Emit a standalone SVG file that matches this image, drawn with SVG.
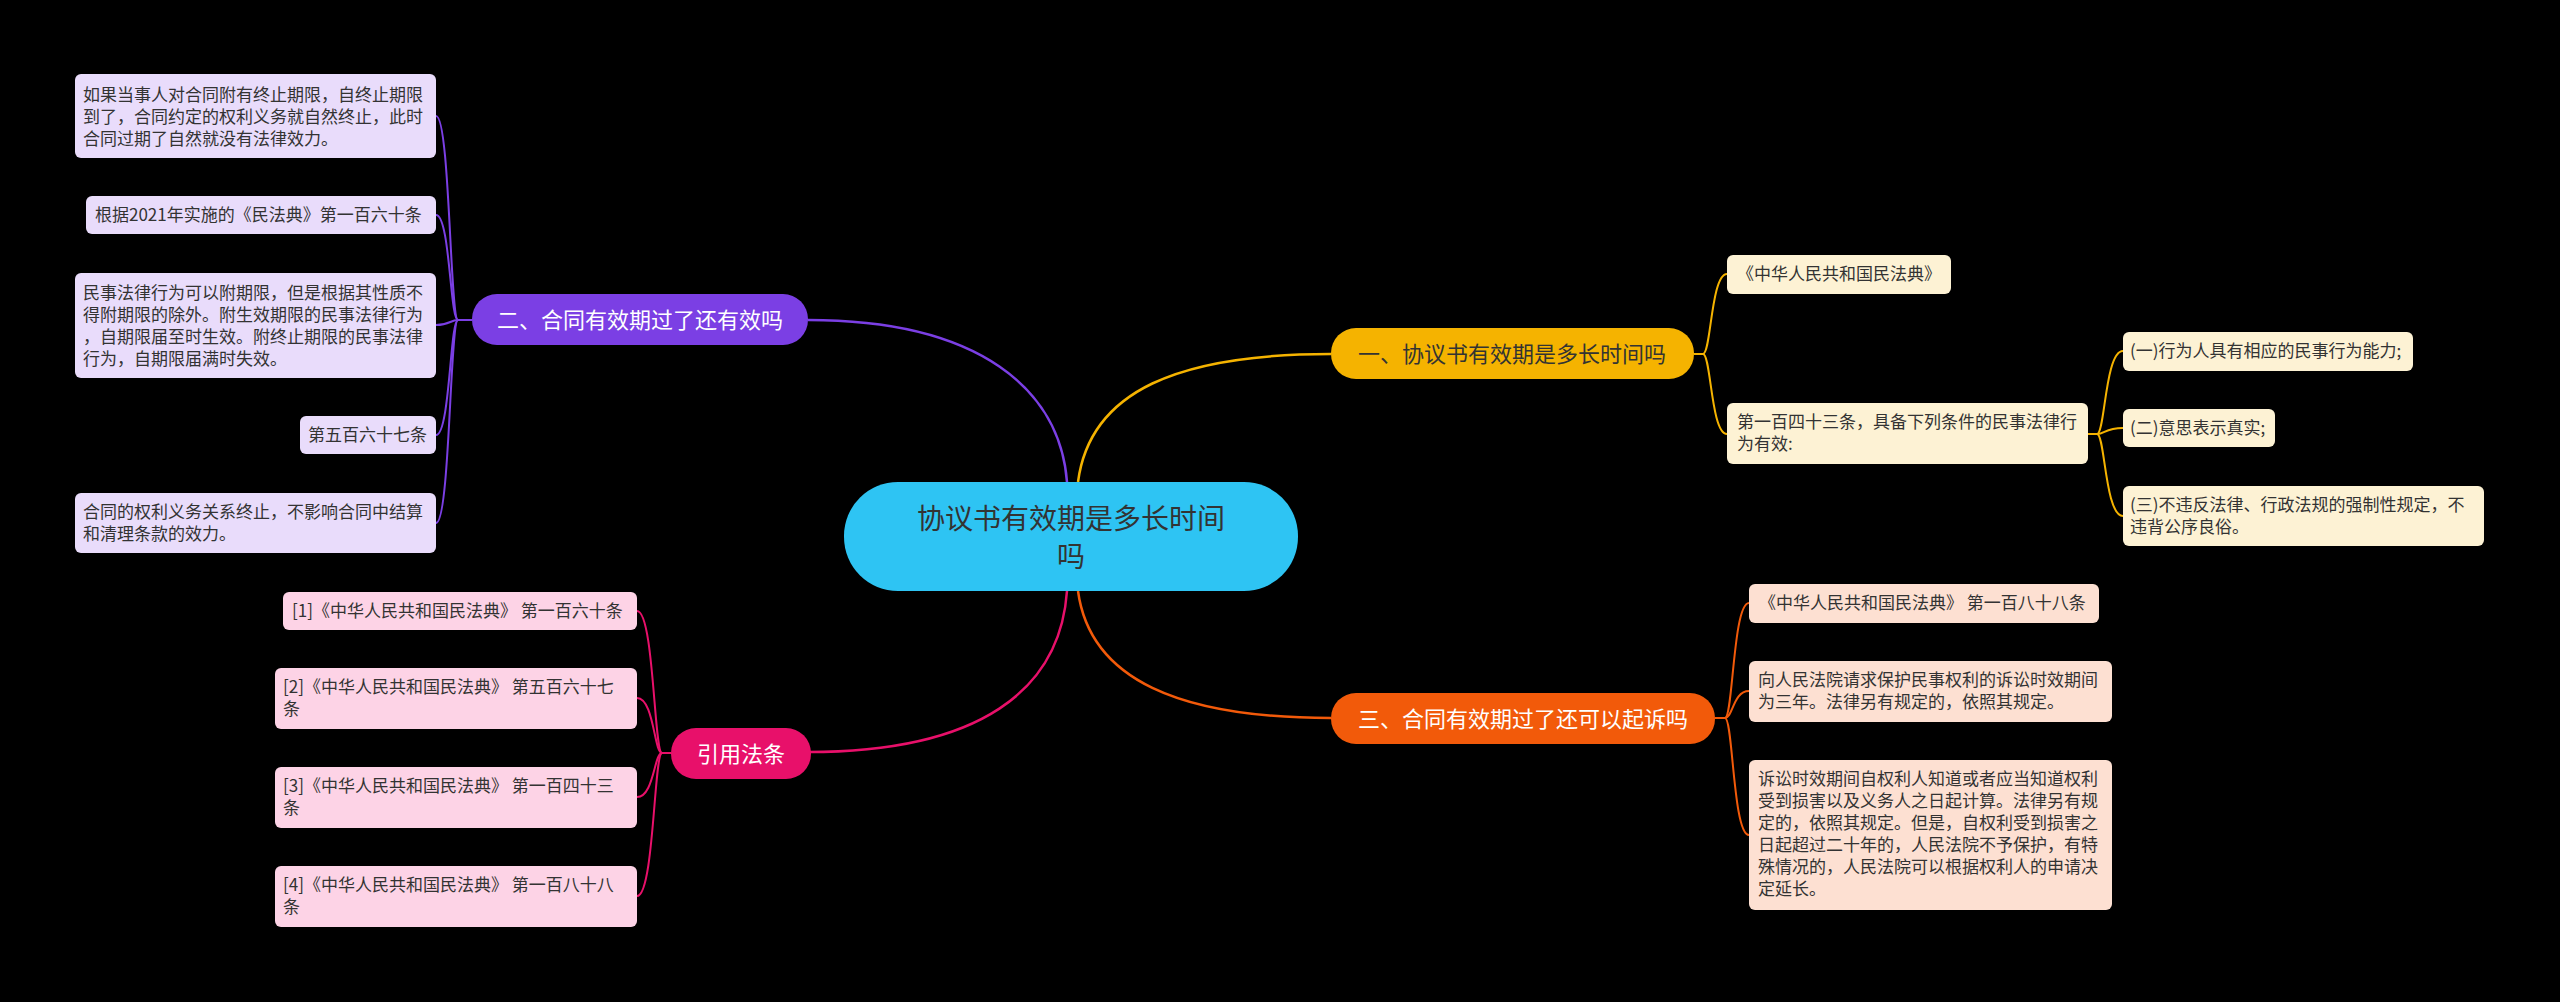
<svg xmlns="http://www.w3.org/2000/svg" width="2560" height="1002" viewBox="0 0 2560 1002">
<style>
text{font-family:"Noto Sans CJK SC","Noto Sans",sans-serif;}
.lf{font-size:17px;fill:#333;}
.br{font-size:22px;}
.c{fill:none;stroke-width:2.5;}
</style>
<rect width="2560" height="1002" fill="#000"/>
<g id="connectors">
<path class="c" stroke="#f5b300" d="M1078,482 C1090,390 1180,354 1331,354"/>
<path class="c" stroke="#7b3fe4" d="M1067,482 C1060,390 980,320 808,320"/>
<path class="c" stroke="#f25a0a" d="M1078,591 C1090,680 1180,718 1331,718"/>
<path class="c" stroke="#e8106a" d="M1067,591 C1060,690 980,752 808,752"/>
<g stroke="#f5b300" fill="none" stroke-width="2">
<path d="M1694,354 H1703 C1711,354 1711,274 1727,274"/>
<path d="M1703,354 C1711,354 1711,434 1727,434"/>
<path d="M2088,434 H2097 C2105,434 2105,351 2123,351"/>
<path d="M2097,434 C2105,434 2105,428 2123,428"/>
<path d="M2097,434 C2105,434 2105,516 2123,516"/>
</g>
<g stroke="#f25a0a" fill="none" stroke-width="2">
<path d="M1715,718 H1725 C1733,718 1733,603 1749,603"/>
<path d="M1725,718 C1733,718 1733,691 1749,691"/>
<path d="M1725,718 C1733,718 1733,835 1749,835"/>
</g>
<g stroke="#7b3fe4" fill="none" stroke-width="2">
<path d="M472,320 H458 C450,320 450,116 436,116"/>
<path d="M458,320 C450,320 450,215 436,215"/>
<path d="M458,320 C450,320 450,325 436,325"/>
<path d="M458,320 C450,320 450,435 436,435"/>
<path d="M458,320 C450,320 450,523 436,523"/>
</g>
<g stroke="#e8106a" fill="none" stroke-width="2">
<path d="M671,753 H662 C654,753 654,611 637,611"/>
<path d="M662,753 C654,753 654,698 637,698"/>
<path d="M662,753 C654,753 654,797 637,797"/>
<path d="M662,753 C654,753 654,896 637,896"/>
</g>
</g>
<g id="center">
<rect x="844" y="482" width="454" height="109" rx="54" fill="#2ec4f3"/>
<text x="1071" y="529" font-size="28" fill="#333" text-anchor="middle">协议书有效期是多长时间</text>
<text x="1071" y="567" font-size="28" fill="#333" text-anchor="middle">吗</text>
</g>
<g id="b1"><rect x="1331" y="328" width="363" height="51" rx="25" fill="#f5b300"/><text class="br" x="1512" y="362" text-anchor="middle" fill="#333">一、协议书有效期是多长时间吗</text></g>
<g id="b2"><rect x="472" y="294" width="336" height="51" rx="25" fill="#7b3fe4"/><text class="br" x="640" y="328" text-anchor="middle" fill="#fff">二、合同有效期过了还有效吗</text></g>
<g id="b3"><rect x="1331" y="693" width="384" height="51" rx="25" fill="#f25a0a"/><text class="br" x="1523" y="727" text-anchor="middle" fill="#fff">三、合同有效期过了还可以起诉吗</text></g>
<g id="b4"><rect x="671" y="728" width="140" height="51" rx="25" fill="#e8106a"/><text class="br" x="741" y="762" text-anchor="middle" fill="#fff">引用法条</text></g>
<g id="y1"><rect x="1727" y="255" width="224" height="39" rx="6" fill="#fdf2d4"/><text class="lf" x="1737" y="280">《中华人民共和国民法典》</text></g>
<g id="y2"><rect x="1727" y="403" width="361" height="61" rx="6" fill="#fdf2d4"/><text class="lf" x="1737" y="428">第一百四十三条，具备下列条件的民事法律行</text><text class="lf" x="1737" y="450">为有效:</text></g>
<g id="y3"><rect x="2123" y="332" width="290" height="39" rx="6" fill="#fdf2d4"/><text class="lf" x="2130" y="357">(一)行为人具有相应的民事行为能力;</text></g>
<g id="y4"><rect x="2123" y="409" width="152" height="38" rx="6" fill="#fdf2d4"/><text class="lf" x="2130" y="434">(二)意思表示真实;</text></g>
<g id="y5"><rect x="2123" y="486" width="361" height="60" rx="6" fill="#fdf2d4"/><text class="lf" x="2130" y="511">(三)不违反法律、行政法规的强制性规定，不</text><text class="lf" x="2130" y="533">违背公序良俗。</text></g>
<g id="o1"><rect x="1749" y="584" width="350" height="39" rx="6" fill="#fde0d2"/><text class="lf" x="1759" y="609">《中华人民共和国民法典》 第一百八十八条</text></g>
<g id="o2"><rect x="1749" y="661" width="363" height="61" rx="6" fill="#fde0d2"/><text class="lf" x="1758" y="686">向人民法院请求保护民事权利的诉讼时效期间</text><text class="lf" x="1758" y="708">为三年。法律另有规定的，依照其规定。</text></g>
<g id="o3"><rect x="1749" y="760" width="363" height="150" rx="6" fill="#fde0d2"/>
<text class="lf" x="1758" y="785">诉讼时效期间自权利人知道或者应当知道权利</text>
<text class="lf" x="1758" y="807">受到损害以及义务人之日起计算。法律另有规</text>
<text class="lf" x="1758" y="829">定的，依照其规定。但是，自权利受到损害之</text>
<text class="lf" x="1758" y="851">日起超过二十年的，人民法院不予保护，有特</text>
<text class="lf" x="1758" y="873">殊情况的，人民法院可以根据权利人的申请决</text>
<text class="lf" x="1758" y="895">定延长。</text></g>
<g id="p1"><rect x="75" y="74" width="361" height="84" rx="6" fill="#e9dcfb"/>
<text class="lf" x="83" y="101">如果当事人对合同附有终止期限，自终止期限</text>
<text class="lf" x="83" y="123">到了，合同约定的权利义务就自然终止，此时</text>
<text class="lf" x="83" y="145">合同过期了自然就没有法律效力。</text></g>
<g id="p2"><rect x="86" y="196" width="350" height="38" rx="6" fill="#e9dcfb"/><text class="lf" x="95" y="221">根据2021年实施的《民法典》第一百六十条</text></g>
<g id="p3"><rect x="75" y="273" width="361" height="105" rx="6" fill="#e9dcfb"/>
<text class="lf" x="83" y="299">民事法律行为可以附期限，但是根据其性质不</text>
<text class="lf" x="83" y="321">得附期限的除外。附生效期限的民事法律行为</text>
<text class="lf" x="83" y="343">，自期限届至时生效。附终止期限的民事法律</text>
<text class="lf" x="83" y="365">行为，自期限届满时失效。</text></g>
<g id="p4"><rect x="300" y="416" width="136" height="38" rx="6" fill="#e9dcfb"/><text class="lf" x="308" y="441">第五百六十七条</text></g>
<g id="p5"><rect x="75" y="493" width="361" height="60" rx="6" fill="#e9dcfb"/>
<text class="lf" x="83" y="518">合同的权利义务关系终止，不影响合同中结算</text>
<text class="lf" x="83" y="540">和清理条款的效力。</text></g>
<g id="k1"><rect x="283" y="592" width="354" height="38" rx="6" fill="#fdd3e6"/><text class="lf" x="292" y="617">[1]《中华人民共和国民法典》 第一百六十条</text></g>
<g id="k2"><rect x="275" y="668" width="362" height="61" rx="6" fill="#fdd3e6"/><text class="lf" x="283" y="693">[2]《中华人民共和国民法典》 第五百六十七</text><text class="lf" x="283" y="715">条</text></g>
<g id="k3"><rect x="275" y="767" width="362" height="61" rx="6" fill="#fdd3e6"/><text class="lf" x="283" y="792">[3]《中华人民共和国民法典》 第一百四十三</text><text class="lf" x="283" y="814">条</text></g>
<g id="k4"><rect x="275" y="866" width="362" height="61" rx="6" fill="#fdd3e6"/><text class="lf" x="283" y="891">[4]《中华人民共和国民法典》 第一百八十八</text><text class="lf" x="283" y="913">条</text></g>
</svg>
